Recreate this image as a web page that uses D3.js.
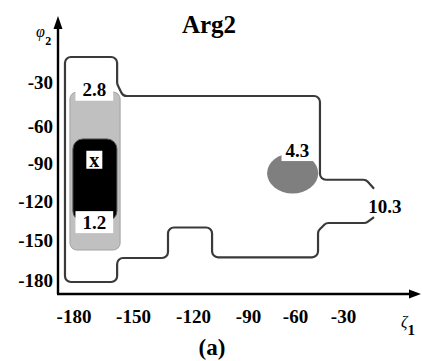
<!DOCTYPE html>
<html>
<head>
<meta charset="utf-8">
<script src="https://cdn.jsdelivr.net/npm/d3@7"></script>
<style>
  body { margin: 0; background: #fff; }
  svg { display: block; }
  text { font-family: "Liberation Serif", "Times New Roman", serif; font-weight: bold; fill: #000; }
</style>
</head>
<body>
<svg id="chart" width="422" height="361"></svg>
<script>
// Tick values (degrees) on both torsion axes
const xTicks = [-180, -150, -120, -90, -60, -30];
const yTicks = [-180, -150, -120, -90, -60, -30];

// Energy contour at 10.3 (open line, ends at the label on the right)
const contour103 = [
  [-10.6, -110], [-15.6, -103], [-44.4, -103], [-44.4, -39.3], [-155, -39.3],
  [-158, -31], [-158, -12.4], [-184.3, -12.4], [-184.3, -181.5], [-158, -181.5],
  [-158, -163.5], [-132.5, -163.5], [-132.5, -140.2], [-109.6, -140.2],
  [-109.6, -163], [-45.6, -163], [-45.6, -143], [-40.6, -136.7], [-15.6, -136.7],
  [-10.6, -132]
];
// Filled regions below 2.8 and below 1.2
const region28 = [[-181.8, -36.6], [-156.5, -36.6], [-156.5, -157.5], [-181.8, -157.5]];
const region12 = [[-180.3, -70.5], [-158.1, -70.5], [-158.1, -135.1], [-180.3, -135.1]];
// Local basin below 4.3: centre and radius in degrees
const basin43Center = [-61.5, -98];
const basin43Radius = 16;

// Contour level labels and the global minimum
const levelLabels = ["2.8", "1.2", "4.3", "10.3"];
const levelLabelX = [-169.5, -169.5, -58.5, -3.8];
const levelLabelY = [-35, -136, -79.5, -123.4];
const minimumMark = { text: "x", x: -169.5, y: -89 };

const svg = d3.select("#chart");

const x = d3.scaleLinear().domain(xTicks).range([73.5, 133, 193, 248, 295, 343]);
const y = d3.scaleLinear().domain(yTicks).range([280, 240, 201.7, 163, 126, 82.5]);

const axisX0 = 58, axisY0 = 294;

// Polyline with rounded corners built on d3.path().arcTo
function roundedPath(data, r, closed) {
  const pts = data.map(d => [x(d[0]), y(d[1])]);
  const n = pts.length;
  const p = d3.path();
  const corner = (a, b, c) => {
    const v1 = [a[0] - b[0], a[1] - b[1]], v2 = [c[0] - b[0], c[1] - b[1]];
    const l1 = Math.hypot(v1[0], v1[1]), l2 = Math.hypot(v2[0], v2[1]);
    const cos = (v1[0] * v2[0] + v1[1] * v2[1]) / (l1 * l2);
    const th = Math.acos(Math.max(-1, Math.min(1, cos)));
    const tmax = Math.min(l1, l2) / 2;
    const rr = Math.min(r, tmax * Math.tan(th / 2));
    p.arcTo(b[0], b[1], c[0], c[1], Math.max(0, rr));
  };
  if (closed) {
    const s = [(pts[n - 1][0] + pts[0][0]) / 2, (pts[n - 1][1] + pts[0][1]) / 2];
    p.moveTo(s[0], s[1]);
    for (let i = 0; i < n; i++) corner(i === 0 ? s : pts[i - 1], pts[i], pts[(i + 1) % n]);
    p.closePath();
  } else {
    p.moveTo(pts[0][0], pts[0][1]);
    for (let i = 1; i < n - 1; i++) corner(pts[i - 1], pts[i], pts[i + 1]);
    p.lineTo(pts[n - 1][0], pts[n - 1][1]);
  }
  return p.toString();
}

// Regions
svg.append("path")
  .attr("d", roundedPath(region28, 7, true))
  .attr("fill", "#c0c0c0")
  .attr("stroke", "#a2a2a2")
  .attr("stroke-width", 1);

svg.append("path")
  .attr("d", roundedPath(region12, 10, true))
  .attr("fill", "#000")
  .attr("stroke", "#555")
  .attr("stroke-width", 1);

svg.append("ellipse")
  .attr("cx", x(basin43Center[0]))
  .attr("cy", y(basin43Center[1]))
  .attr("rx", x(basin43Center[0] + basin43Radius) - x(basin43Center[0]))
  .attr("ry", y(basin43Center[1]) - y(basin43Center[1] + basin43Radius))
  .attr("fill", "#7f7f7f");

// Outer contour
svg.append("path")
  .attr("d", roundedPath(contour103, 6, false))
  .attr("fill", "none")
  .attr("stroke", "#3a3a3a")
  .attr("stroke-width", 2.2)
  .attr("stroke-linejoin", "round");

// Level labels on white boxes
function boxedLabel(txt, px, py, size, padX, boxH, boxed) {
  const g = svg.append("g");
  const t = g.append("text")
    .attr("x", px).attr("y", py)
    .attr("dy", "0.35em")
    .attr("text-anchor", "middle")
    .style("font-size", size + "px")
    .text(txt);
  if (boxed) {
    const bb = t.node().getBBox();
    g.insert("rect", "text")
      .attr("x", bb.x - padX).attr("y", py - boxH / 2)
      .attr("width", bb.width + 2 * padX).attr("height", boxH)
      .attr("fill", "#fff");
  }
}
levelLabels.forEach((lab, i) => {
  boxedLabel(lab, x(levelLabelX[i]), y(levelLabelY[i]), 19, lab === "4.3" ? 4 : 7, 22, lab !== "10.3");
});
boxedLabel(minimumMark.text, x(minimumMark.x), y(minimumMark.y) - 2, 20, 3, 18, true);

// Axes (labels use a plain hyphen for the minus sign)
const gx = svg.append("g")
  .attr("transform", `translate(0,${axisY0})`)
  .call(d3.axisBottom(x).tickValues(xTicks).tickSize(0).tickPadding(16).tickFormat(d => String(d)));
gx.select(".domain").remove();
gx.selectAll("text").style("font-size", "19px").attr("font-family", null);

const gy = svg.append("g")
  .attr("transform", `translate(${axisX0},0)`)
  .call(d3.axisLeft(y).tickValues(yTicks).tickSize(0).tickPadding(5).tickFormat(d => String(d)));
gy.select(".domain").remove();
gy.selectAll("text").style("font-size", "19px").attr("font-family", null);

svg.append("line")
  .attr("x1", axisX0).attr("y1", axisY0).attr("x2", axisX0).attr("y2", 24)
  .attr("stroke", "#000").attr("stroke-width", 2.4);
svg.append("line")
  .attr("x1", axisX0 - 1).attr("y1", axisY0).attr("x2", 414).attr("y2", axisY0)
  .attr("stroke", "#000").attr("stroke-width", 2.4);
svg.append("path")
  .attr("d", `M${axisX0},16 L${axisX0 - 4.5},29 L${axisX0 + 4.5},29 Z`)
  .attr("fill", "#000");
svg.append("path")
  .attr("d", `M421,${axisY0} L409,${axisY0 - 4.5} L409,${axisY0 + 4.5} Z`)
  .attr("fill", "#000");

// Axis titles
const yl = svg.append("text").attr("x", 36).attr("y", 37).style("font-weight", "normal");
yl.append("tspan").style("font-style", "italic").style("font-size", "16px").text("φ");
yl.append("tspan").attr("dy", 8).attr("dx", 0.5).style("font-size", "12px").style("font-weight", "bold").text("2");

const xl = svg.append("text").attr("x", 401).attr("y", 327).style("font-weight", "normal");
xl.append("tspan").style("font-style", "italic").style("font-size", "16px").text("ζ");
xl.append("tspan").attr("dy", 8).style("font-size", "15px").style("font-weight", "bold").text("1");

// Title and panel tag
svg.append("text").attr("x", 209).attr("y", 33).attr("text-anchor", "middle")
  .style("font-size", "25px").text("Arg2");
svg.append("text").attr("x", 212).attr("y", 355).attr("text-anchor", "middle")
  .style("font-size", "23px").text("(a)");
</script>
</body>
</html>
